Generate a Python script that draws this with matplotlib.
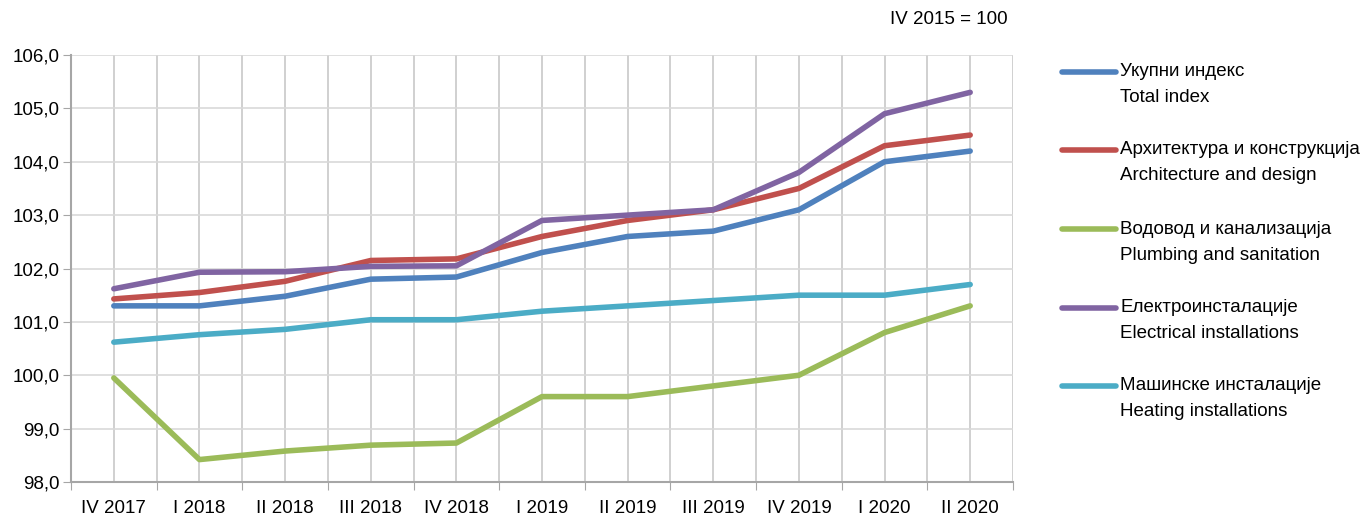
import matplotlib.pyplot as plt
import numpy as np
from matplotlib.lines import Line2D
from matplotlib.ticker import FuncFormatter

plt.rcParams["font.family"] = ["Liberation Sans", "DejaVu Sans"]

quarters = ["IV 2017", "I 2018", "II 2018", "III 2018", "IV 2018", "I 2019",
            "II 2019", "III 2019", "IV 2019", "I 2020", "II 2020"]

total_index = [101.3, 101.3, 101.48, 101.8, 101.84, 102.3, 102.6, 102.7, 103.1, 104.0, 104.2]
architecture = [101.43, 101.55, 101.76, 102.15, 102.18, 102.6, 102.9, 103.1, 103.5, 104.3, 104.5]
plumbing = [99.95, 98.42, 98.58, 98.69, 98.73, 99.6, 99.6, 99.8, 100.0, 100.8, 101.3]
electrical = [101.62, 101.93, 101.94, 102.04, 102.05, 102.9, 103.0, 103.1, 103.8, 104.9, 105.3]
heating = [100.62, 100.76, 100.86, 101.04, 101.04, 101.2, 101.3, 101.4, 101.5, 101.5, 101.7]

series_labels = [
    ("Укупни индекс", "Total index"),
    ("Архитектура и конструкција", "Architecture and design"),
    ("Водовод и канализација", "Plumbing and sanitation"),
    ("Електроинсталације", "Electrical installations"),
    ("Машинске инсталације", "Heating installations"),
]
series = [total_index, architecture, plumbing, electrical, heating]
colors = ["#4F81BD", "#C0504D", "#9BBB59", "#8064A2", "#4BACC6"]

fig = plt.figure(figsize=(13.6, 5.2), dpi=100)
ax = fig.add_axes([71 / 1360, 1 - 482 / 520, 942 / 1360, 427 / 520])

x = np.arange(len(quarters))
for vals, col in zip(series, colors):
    ax.plot(x, vals, color=col, lw=4, solid_capstyle="round", zorder=3)

ax.set_xlim(-0.5, len(quarters) - 0.5)
ax.set_ylim(98, 106)
ax.set_yticks(np.arange(98, 106.1, 1))
ax.yaxis.set_major_formatter(FuncFormatter(lambda v, _: f"{v:.1f}".replace(".", ",")))

# major ticks on category boundaries, labels on the centres
ax.set_xticks(np.arange(-0.5, len(quarters)))
ax.set_xticklabels([])
ax.set_xticks(x, minor=True)
ax.set_xticklabels(quarters, minor=True)
ax.tick_params(axis="x", which="minor", length=0, pad=13, labelsize=13.5)
ax.tick_params(axis="x", which="major", length=6, color="#A6A6A6")
ax.tick_params(axis="y", length=6, color="#A6A6A6", labelsize=13.5, pad=2)

ax.grid(True, axis="y", color="#D9D9D9", lw=1.2)
ax.grid(True, axis="x", which="both", color="#C8C8C8", lw=1.2)
ax.set_axisbelow(True)
for side in ["top", "right"]:
    ax.spines[side].set_visible(False)
for side in ["left", "bottom"]:
    ax.spines[side].set_color("#A6A6A6")
    ax.spines[side].set_linewidth(1.5)

fig.text(1008 / 1360, 1 - 20 / 520, "IV 2015 = 100", ha="right", va="center", fontsize=13.5)

# legend: handle sits on the first line of each two-line label
legend_y = [72, 150, 229, 308, 386]
for (sr, en), col, yy in zip(series_labels, colors, legend_y):
    fy = 1 - yy / 520
    fig.add_artist(Line2D([1062 / 1360, 1116 / 1360], [fy, fy], color=col, lw=4,
                          solid_capstyle="round", transform=fig.transFigure))
    fig.text(1120 / 1360, fy, sr, ha="left", va="center", fontsize=13.5)
    fig.text(1120 / 1360, fy - 26 / 520, en, ha="left", va="center", fontsize=13.5)

fig.savefig("out.png", dpi=100)
